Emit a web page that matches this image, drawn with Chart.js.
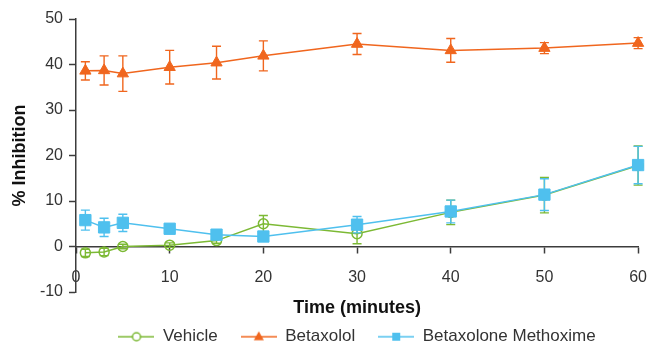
<!DOCTYPE html>
<html>
<head>
<meta charset="utf-8">
<script src="https://cdn.jsdelivr.net/npm/chart.js@4.4.1/dist/chart.umd.min.js"></script>
<style>
  html, body { margin: 0; padding: 0; background: #fff; }
  #wrap { width: 662px; height: 347px; }
</style>
</head>
<body>
<div id="wrap"><canvas id="chartInhibition"></canvas></div>
<script>
// waktu pengukuran (menit)
const times = [1, 3, 5, 10, 15, 20, 30, 40, 50, 60];

const vehicle = [-1.4, -1.2, 0, 0.3, 1.3, 5.0, 2.8, 7.5, 11.3, 17.8];
const vehicleErr = [0.8, 0.8, 0.5, 0.5, 0.6, 1.8, 2.2, 2.7, 3.9, 4.3];

const betaxolol = [38.6, 38.7, 38.0, 39.4, 40.4, 41.9, 44.5, 43.1, 43.6, 44.7];
const betaxololErr = [2.0, 3.2, 3.9, 3.7, 3.6, 3.3, 2.3, 2.6, 1.2, 1.2];

const methoxime = [5.8, 4.2, 5.2, 3.9, 2.6, 2.2, 4.8, 7.7, 11.4, 17.9];
const methoximeErr = [2.2, 2.0, 1.9, 0.8, 0.6, 0.6, 1.8, 2.5, 3.5, 4.1];

const yTicks = [-10, 0, 10, 20, 30, 40, 50];
const xTicks = [0, 10, 20, 30, 40, 50, 60];

const GREEN = '#7CB934';
const ORANGE = '#F0661E';
const BLUE = '#4FC0EE';
const AXIS = '#3c3c3c';

function toPoints(values) {
  return times.map((t, i) => ({ x: t, y: values[i] }));
}

// ikon legenda: garis + marker
function legendIcon(color, shape) {
  const c = document.createElement('canvas');
  c.width = 36;
  c.height = 16;
  const g = c.getContext('2d');
  g.strokeStyle = color;
  g.fillStyle = color;
  g.lineWidth = 1.5;
  g.beginPath();
  g.moveTo(0, 8);
  g.lineTo(36, 8);
  g.stroke();
  g.beginPath();
  if (shape === 'circle') {
    g.arc(18, 8, 4, 0, Math.PI * 2);
    g.fillStyle = '#fff';
    g.fill();
    g.stroke();
  } else if (shape === 'triangle') {
    g.moveTo(18, 2.5);
    g.lineTo(23, 11.5);
    g.lineTo(13, 11.5);
    g.closePath();
    g.fill();
  } else {
    g.rect(14, 4, 8, 8);
    g.fill();
  }
  return c;
}

const legendIcons = [
  legendIcon(GREEN, 'circle'),
  legendIcon(ORANGE, 'triangle'),
  legendIcon(BLUE, 'rect')
];

// error bar digambar sebelum tiap dataset
const errorBars = {
  id: 'errorBars',
  beforeDatasetDraw(chart, args) {
    const ds = chart.data.datasets[args.index];
    if (!ds.errors) return;
    const ctx = chart.ctx;
    const yScale = chart.scales.y;
    ctx.save();
    ctx.strokeStyle = ds.borderColor;
    ctx.lineWidth = 1.4;
    args.meta.data.forEach((pt, i) => {
      const v = ds.data[i].y;
      const e = ds.errors[i];
      const top = yScale.getPixelForValue(v + e);
      const bot = yScale.getPixelForValue(v - e);
      ctx.beginPath();
      ctx.moveTo(pt.x, top);
      ctx.lineTo(pt.x, bot);
      ctx.moveTo(pt.x - 4.5, top);
      ctx.lineTo(pt.x + 4.5, top);
      ctx.moveTo(pt.x - 4.5, bot);
      ctx.lineTo(pt.x + 4.5, bot);
      ctx.stroke();
    });
    ctx.restore();
  }
};

Chart.defaults.font.family = "'Liberation Sans', Arial, sans-serif";
Chart.defaults.color = '#333';

const ctx = document.getElementById('chartInhibition').getContext('2d');

new Chart(ctx, {
  type: 'line',
  data: {
    datasets: [{
      label: 'Vehicle',
      data: toPoints(vehicle),
      errors: vehicleErr,
      borderColor: GREEN,
      backgroundColor: GREEN,
      borderWidth: 1.5,
      pointStyle: 'circle',
      pointRadius: 5,
      pointBorderWidth: 1.5,
      pointBackgroundColor: 'rgba(255,255,255,0)',
      clip: false,
      order: 3
    }, {
      label: 'Betaxolol',
      data: toPoints(betaxolol),
      errors: betaxololErr,
      borderColor: ORANGE,
      backgroundColor: ORANGE,
      borderWidth: 1.5,
      pointStyle: 'triangle',
      pointRadius: 6.5,
      pointBorderWidth: 1,
      clip: false,
      order: 2
    }, {
      label: 'Betaxolone Methoxime',
      data: toPoints(methoxime),
      errors: methoximeErr,
      borderColor: BLUE,
      backgroundColor: BLUE,
      borderWidth: 1.5,
      pointStyle: 'rect',
      pointRadius: 8,
      pointBorderWidth: 1,
      clip: false,
      order: 1
    }]
  },
  options: {
    responsive: true,
    maintainAspectRatio: false,
    animation: false,
    layout: {
      padding: { left: 0, right: 20, top: 19, bottom: 0 }
    },
    elements: {
      line: { tension: 0 }
    },
    plugins: {
      tooltip: { enabled: false },
      legend: {
        position: 'bottom',
        fullSize: false,
        maxHeight: 55,
        title: {
          display: true,
          text: '',
          font: { size: 11 },
          padding: 0
        },
        labels: {
          usePointStyle: true,
          pointStyleWidth: 36,
          padding: 23,
          color: '#333',
          font: { size: 17 },
          sort: (a, b) => a.datasetIndex - b.datasetIndex,
          generateLabels: chart => Chart.defaults.plugins.legend.labels.generateLabels(chart)
            .map(item => Object.assign(item, { pointStyle: legendIcons[item.datasetIndex] }))
        }
      }
    },
    scales: {
      x: {
        type: 'linear',
        position: { y: 0 },
        min: 0,
        max: 60,
        afterBuildTicks: scale => { scale.ticks = xTicks.map(v => ({ value: v })); },
        grid: {
          drawOnChartArea: false,
          tickLength: 6,
          tickWidth: 1.5,
          color: AXIS
        },
        border: { color: AXIS, width: 1.5 },
        ticks: {
          padding: 15,
          color: '#333',
          font: { size: 16 }
        },
        title: {
          display: true,
          text: 'Time (minutes)',
          color: '#111',
          font: { size: 18, weight: 'bold' },
          padding: { top: -4, bottom: 0 }
        }
      },
      y: {
        min: -10,
        max: 50,
        afterBuildTicks: scale => { scale.ticks = yTicks.map(v => ({ value: v })); },
        afterFit: scale => { scale.width = 76; },
        grid: {
          drawOnChartArea: false,
          tickLength: 7,
          tickWidth: 1.5,
          color: AXIS
        },
        border: { color: AXIS, width: 1.5 },
        ticks: {
          padding: 6,
          color: '#333',
          font: { size: 16 }
        },
        title: {
          display: true,
          text: '% Inhibition',
          color: '#111',
          font: { size: 18, weight: 'bold' },
          padding: { top: 9, bottom: 0 }
        }
      }
    }
  },
  plugins: [errorBars]
});
</script>
</body>
</html>
